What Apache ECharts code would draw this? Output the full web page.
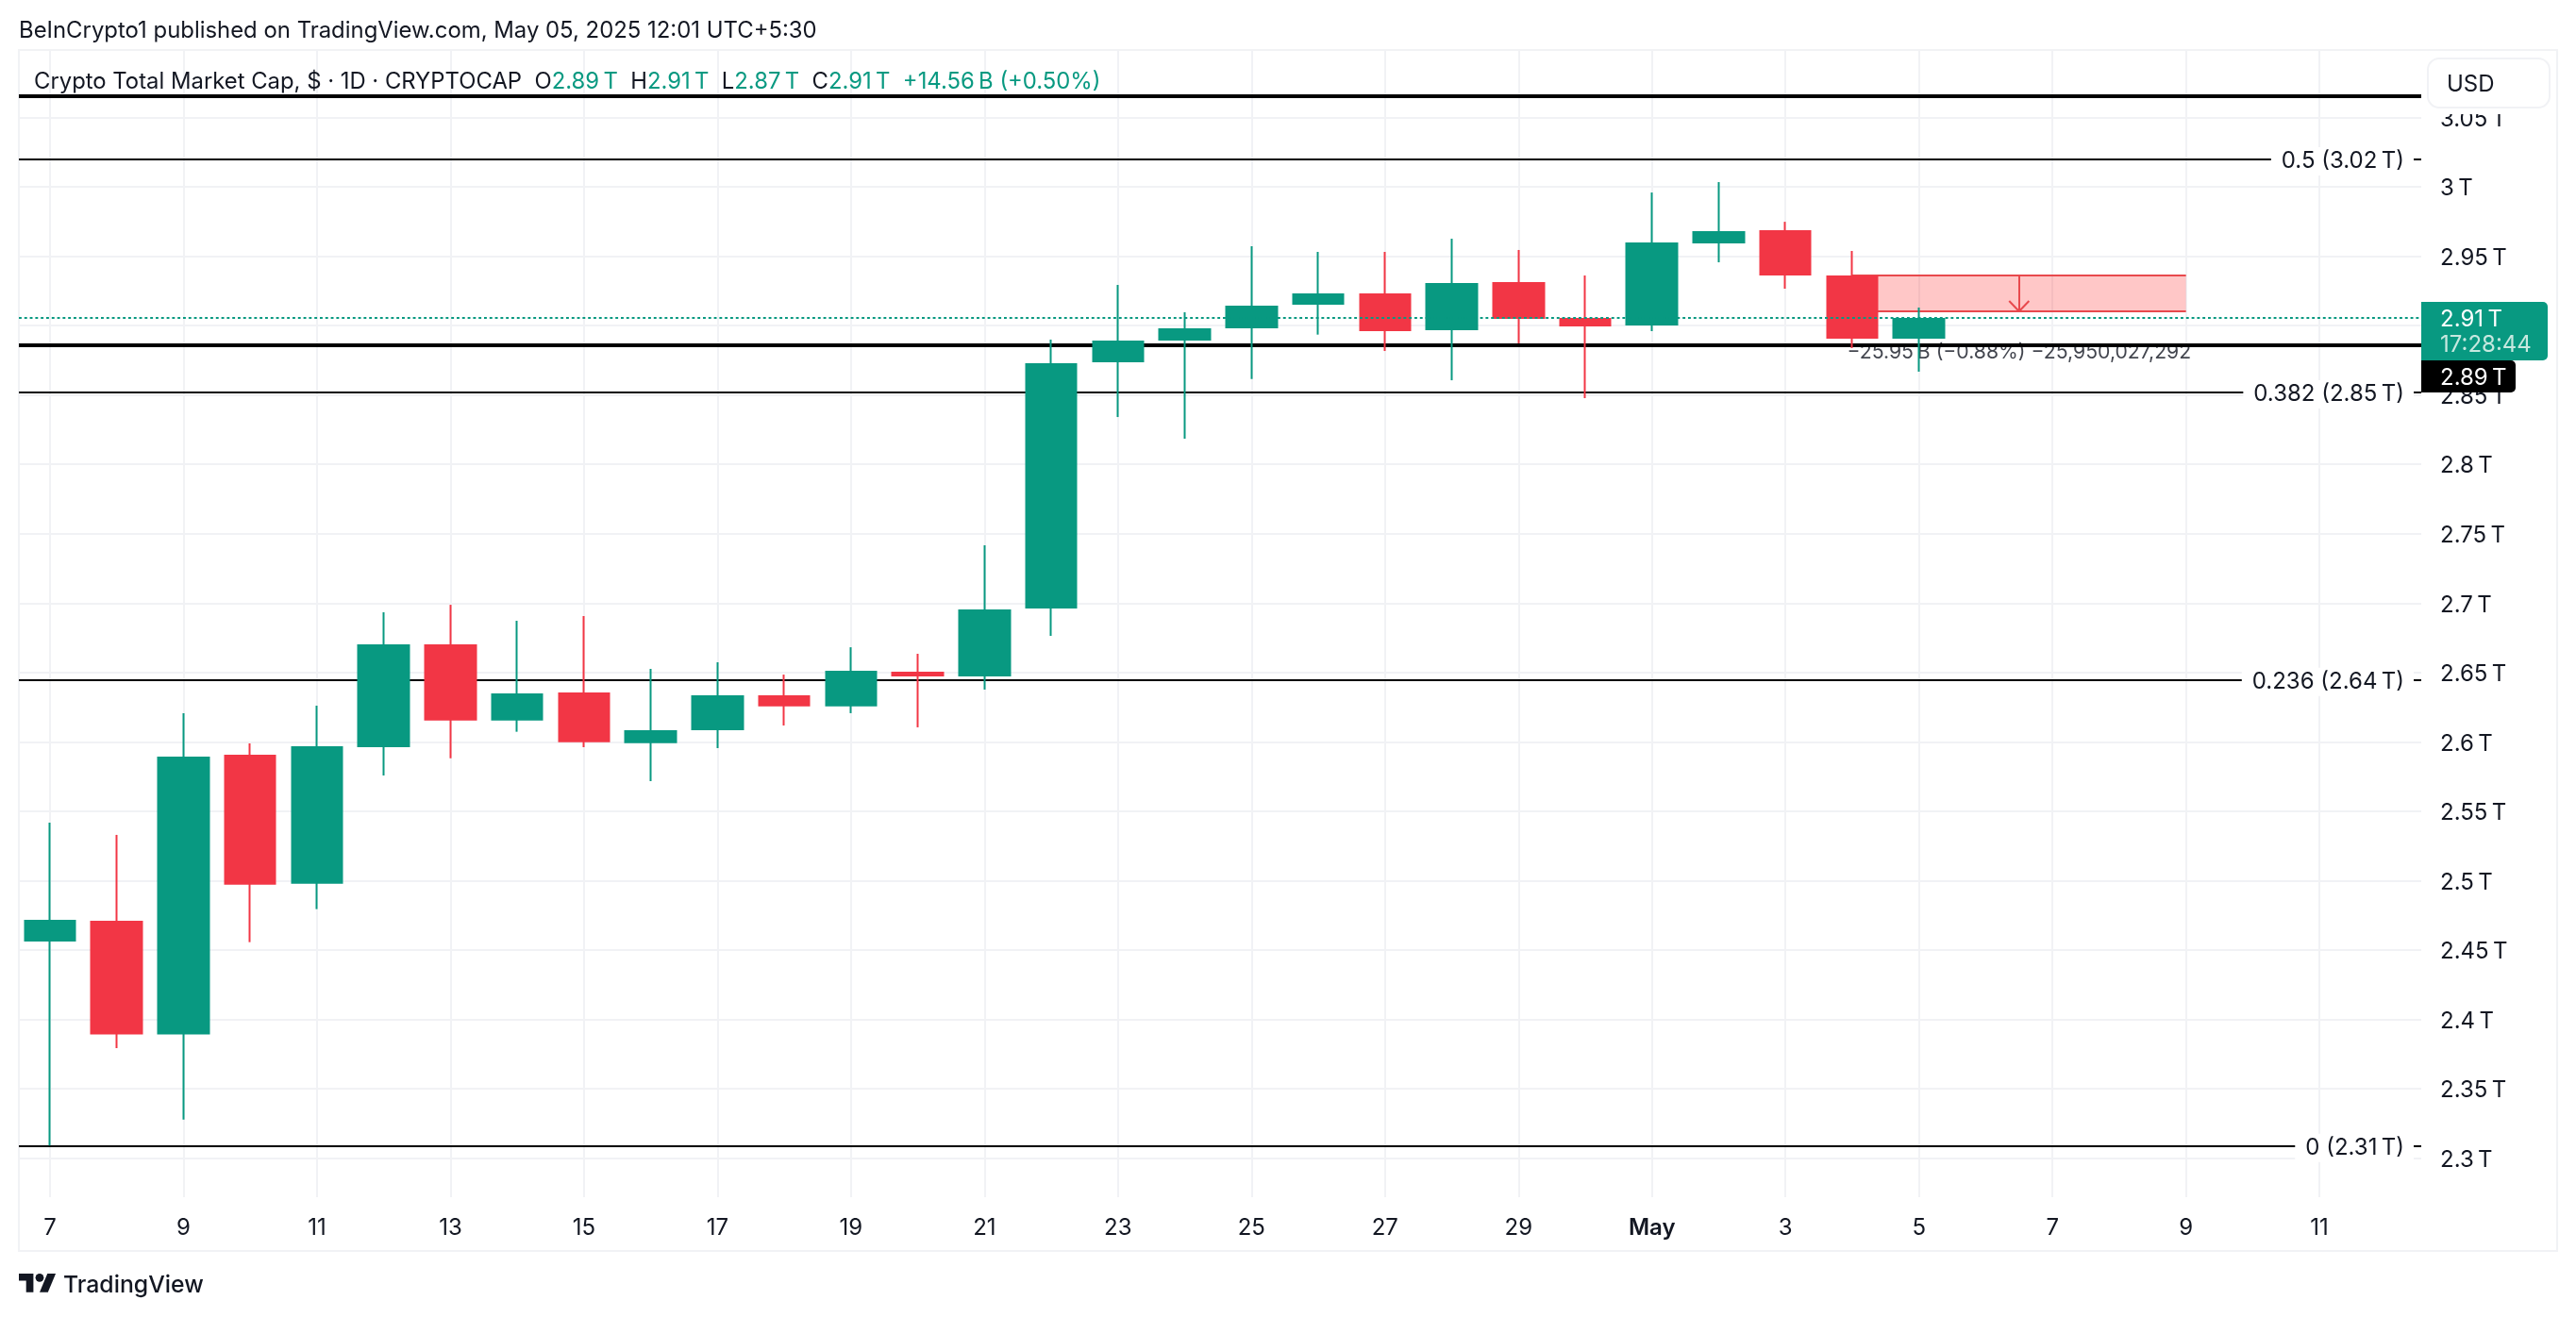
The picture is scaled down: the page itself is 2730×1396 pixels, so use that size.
<!DOCTYPE html>
<html><head><meta charset="utf-8">
<style>html,body{margin:0;padding:0;background:#fff}#c{width:2730px;height:1396px}</style>
<script src="https://cdn.jsdelivr.net/npm/echarts@6/dist/echarts.min.js"></script>
</head><body><div id="c"></div>
<script>
const days   = ['Apr 7','Apr 8','Apr 9','Apr 10','Apr 11','Apr 12','Apr 13','Apr 14','Apr 15','Apr 16','Apr 17','Apr 18','Apr 19','Apr 20','Apr 21','Apr 22','Apr 23','Apr 24','Apr 25','Apr 26','Apr 27','Apr 28','Apr 29','Apr 30','May 1','May 2','May 3','May 4','May 5'];
const opens  = [2.4562,2.4711,2.3891,2.5908,2.4978,2.5962,2.6703,2.6154,2.6356,2.5991,2.6084,2.6336,2.6256,2.6506,2.6472,2.6961,2.8736,2.8892,2.8980,2.9150,2.9232,2.8967,2.9313,2.9055,2.9001,2.9592,2.9687,2.9361,2.8906];
const closes = [2.4718,2.3891,2.5894,2.4971,2.5969,2.6703,2.6154,2.6349,2.5998,2.6084,2.6336,2.6256,2.6513,2.6472,2.6954,2.8729,2.8892,2.8980,2.9143,2.9232,2.8960,2.9307,2.9048,2.8994,2.9599,2.9680,2.9361,2.8906,2.9055];
const lows   = [2.3091,2.3793,2.3279,2.4557,2.4795,2.5758,2.5882,2.6073,2.5962,2.5717,2.5955,2.6118,2.6207,2.6105,2.6377,2.6764,2.8341,2.8185,2.8615,2.8935,2.8817,2.8606,2.8872,2.8477,2.8960,2.9456,2.9266,2.8838,2.8668];
const highs  = [2.5418,2.5330,2.6207,2.5989,2.6261,2.6934,2.6988,2.6873,2.6907,2.6526,2.6574,2.6485,2.6682,2.6635,2.7417,2.8899,2.9293,2.9096,2.9572,2.9531,2.9531,2.9626,2.9545,2.9361,2.9959,3.0034,2.9748,2.9538,2.9130];

const xTickPositions = [0,2,4,6,8,10,12,14,16,18,20,22,24,26,28,30,32,34];
const xTickLabels    = ['7','9','11','13','15','17','19','21','23','25','27','29','May','3','5','7','9','11'];
const yTicks = [2.3,2.35,2.4,2.45,2.5,2.55,2.6,2.65,2.7,2.75,2.8,2.85,2.9,2.95,3,3.05];

const fibLevels = [3.0197,2.8518,2.6447,2.3088];
const fibLabels = ['0.5 (3.02\u202fT)','0.382 (2.85\u202fT)','0.236 (2.64\u202fT)','0 (2.31\u202fT)'];
const heavyLevels = [3.0655,2.8858];
const lastClose = 2.9055;

const measureFrom = 27, measureTo = 32, measureHigh = 2.9361, measureLow = 2.9103;
const measureText = '\u221225.95\u202fB (\u22120.88%) \u221225,950,027,292';

const FONT = 'Inter';
const INK = '#131722', GREEN = '#089981', RED = '#f23645', MEASURE = '#e8494d', GRID = '#f1f2f5';

const candleData = days.map((d,i)=>[i,opens[i],closes[i],lows[i],highs[i]]);
const tickLabelOf = v => { const i = xTickPositions.indexOf(v); return i<0 ? '' : xTickLabels[i]; };
const candleColors = {color:GREEN,color0:RED,borderColor:GREEN,borderColor0:RED};
const arrowMid = (measureFrom+measureTo)/2, headX = 0.149, headY = 0.0075;
const seg = (a,b,c,d)=>[{coord:[a,b]},{coord:[c,d]}];
const noAnim = {animation:false,silent:true};

const chart = echarts.init(document.getElementById('c'),null,{renderer:'canvas'});
chart.setOption({
  animation:false,
  backgroundColor:'#fff',
  textStyle:{fontFamily:FONT},
  grid:{left:20,top:53,width:2546,height:1216,containLabel:false},
  xAxis:{type:'value',min:-0.4665,max:35.525,
    axisLine:{show:false},
    axisTick:{show:false,customValues:xTickPositions},
    splitLine:{show:true,lineStyle:{color:GRID,width:2}},
    axisLabel:{customValues:xTickPositions,color:INK,fontSize:24,fontFamily:FONT,margin:21,
      formatter:v=>{const t=tickLabelOf(v);return t==='May'?'{b|May}':t;},
      rich:{b:{fontWeight:600,fontSize:24,fontFamily:FONT,color:INK}}}},
  yAxis:{type:'value',position:'right',min:2.2719,max:3.0986,
    axisLine:{show:false},
    axisTick:{show:false,customValues:yTicks},
    splitLine:{show:true,lineStyle:{color:GRID,width:2}},
    axisLabel:{customValues:yTicks,color:INK,fontSize:24,fontFamily:FONT,margin:20,align:'left',verticalAlign:'top',lineHeight:4,
      formatter:v=>v+'\u202fT'}},
  series:[
    {type:'scatter',name:'measure text',z:1,symbolSize:0,silent:true,
      data:[[arrowMid,2.8803]],
      label:{show:true,position:'inside',formatter:measureText,color:INK,fontSize:21.2,fontFamily:FONT}},
    {type:'line',name:'measure',data:[],z:2,...noAnim,
      markArea:{silent:true,z:1,precision:4,itemStyle:{color:'rgba(255,0,0,0.22)',borderWidth:0},
        data:[[{coord:[measureFrom,measureHigh]},{coord:[measureTo,measureLow]}]]},
      markLine:{silent:true,z:2,precision:4,symbol:'none',animation:false,label:{show:false},
        lineStyle:{color:MEASURE,width:2,type:'solid'},
        data:[seg(measureFrom,measureHigh,measureTo,measureHigh),
              seg(measureFrom,measureLow,measureTo,measureLow),
              seg(arrowMid,measureHigh,arrowMid,measureLow),
              seg(arrowMid-headX,measureLow+headY,arrowMid,measureLow),
              seg(arrowMid+headX,measureLow+headY,arrowMid,measureLow)]}},
    {type:'line',name:'fibonacci',data:[],z:5,...noAnim,
      markLine:{silent:true,z:5,precision:4,symbol:'none',animation:false,
        lineStyle:{color:'#000',width:2,type:'solid'},
        data:fibLevels.map((v,i)=>({yAxis:v,
            label:{show:true,position:'insideEnd',distance:8,offset:[0,2],formatter:fibLabels[i],color:INK,fontSize:24,fontFamily:FONT,
              backgroundColor:'#fff',padding:[3,10,3,11]}}))
          .concat(heavyLevels.map(v=>({yAxis:v,label:{show:false},lineStyle:{color:'#000',width:4,type:'solid'}})))}},
    {type:'candlestick',name:'wicks',z:10,barWidth:0.1,silent:true,
      itemStyle:{...candleColors,borderWidth:2},data:candleData},
    {type:'candlestick',name:'Crypto Total Market Cap',z:11,barWidth:56,silent:true,
      itemStyle:{...candleColors,borderWidth:0},data:candleData},
    {type:'line',name:'last price',data:[],z:20,...noAnim,
      markLine:{silent:true,z:20,precision:4,symbol:'none',animation:false,label:{show:false},
        lineStyle:{color:GREEN,width:2,type:[2.9,2.9]},data:[{yAxis:lastClose}]}}
  ],
  graphic:[
    {type:'rect',z:-1,silent:true,shape:{x:20,y:53,width:2690,height:1273},style:{fill:'none',stroke:GRID,lineWidth:2}},
    {type:'text',z:100,silent:true,x:20,y:33,style:{text:'BeInCrypto1 published on TradingView.com, May 05, 2025 12:01 UTC+5:30',font:'23.9px '+FONT,fill:INK,verticalAlign:'middle'}},
    {type:'text',z:100,silent:true,x:36,y:87,style:{
      text:'{k|Crypto Total Market Cap, $ \u00b7 1D \u00b7 CRYPTOCAP  O}{g|2.89\u202fT}{k|  H}{g|2.91\u202fT}{k|  L}{g|2.87\u202fT}{k|  C}{g|2.91\u202fT}{k|  }{g|+14.56\u202fB (+0.50%)}',
      verticalAlign:'middle',font:'23.85px '+FONT,
      rich:{k:{fill:INK,font:'23.85px '+FONT},g:{fill:GREEN,font:'23.85px '+FONT}}}},
    {type:'rect',z:99,silent:true,shape:{x:2573,y:112,width:129,height:9},style:{fill:'#fff'}},
    {type:'rect',z:100,silent:true,shape:{x:2573,y:62,width:129,height:52,r:12},style:{fill:'#fff',stroke:GRID,lineWidth:2}},
    {type:'text',z:101,silent:true,x:2593,y:89.5,style:{text:'USD',font:'24px '+FONT,fill:INK,verticalAlign:'middle'}},
    {type:'rect',z:100,silent:true,shape:{x:2566,y:320,width:134,height:62,r:[0,5,5,0]},style:{fill:GREEN}},
    {type:'text',z:101,silent:true,x:2586,y:339,style:{text:'2.91\u202fT',font:'24px '+FONT,fill:'#fff',verticalAlign:'middle'}},
    {type:'text',z:101,silent:true,x:2586,y:366,style:{text:'17:28:44',font:'24px '+FONT,fill:'#c6e8df',verticalAlign:'middle'}},
    {type:'rect',z:100,silent:true,shape:{x:2566,y:382,width:100,height:34,r:[0,5,5,0]},style:{fill:'#000'}},
    {type:'text',z:101,silent:true,x:2586,y:400.5,style:{text:'2.89\u202fT',font:'24px '+FONT,fill:'#fff',verticalAlign:'middle'}},
    {type:'group',silent:true,x:20,y:1345.5,scaleX:1.1,scaleY:1.1,children:[
      {type:'polygon',silent:true,z:100,shape:{points:[[0,4],[14,4],[14,22],[7,22],[7,11],[0,11]]},style:{fill:INK}},
      {type:'polygon',silent:true,z:100,shape:{points:[[27.5,4],[35.5,4],[28,22],[20,22]]},style:{fill:INK}},
      {type:'circle',silent:true,z:100,shape:{cx:20,cy:8,r:4},style:{fill:INK}}]},
    {type:'text',z:100,silent:true,x:67,y:1363,style:{text:'TradingView',font:'500 24.8px '+FONT,fill:INK,verticalAlign:'middle'}}
  ]
});
</script></body></html>
